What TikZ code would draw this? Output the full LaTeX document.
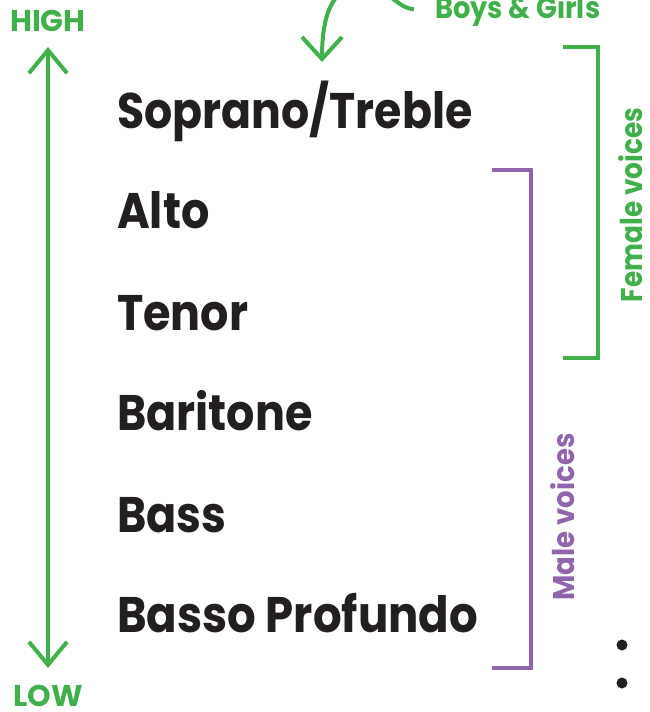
\documentclass[tikz,border=0pt]{standalone}
\usepackage{graphicx}
\usepackage{fontspec}
\setmainfont{Poppins}
\usetikzlibrary{arrows.meta}
\definecolor{voicegreen}{RGB}{64,176,74}
\definecolor{voicepurple}{RGB}{145,101,172}
\definecolor{voiceblack}{RGB}{35,31,32}
\newcommand\narrow[2]{\scalebox{#1}[1]{#2}}
\tikzset{
  voice/.style={anchor=base west,inner sep=0pt,text=voiceblack,font=\fontsize{50}{50}\selectfont\bfseries},
  tag/.style={inner sep=0pt,font=\fontsize{30}{30}\selectfont\bfseries},
  bar/.style={line width=4pt}
}

\begin{document}
\begin{tikzpicture}[x=1pt,y=-1pt]
\useasboundingbox (0,0) rectangle (650,712);

\begin{scope}
    \node[voice] (sop) at (117,128) {\narrow{0.885}{Soprano/Treble}};
    \node[voice] (alt) at (117,228) {\narrow{0.89}{Alto}};
    \node[voice] (ten) at (117,330) {\narrow{0.89}{Tenor}};
    \node[voice] (bar) at (117,430) {\narrow{0.89}{Baritone}};
    \node[voice] (bas) at (117,532) {\narrow{0.89}{Bass}};
    \node[voice] (pro) at (117,632) {\narrow{0.9}{Basso Profundo}};
\end{scope}

\begin{scope}[text=voicegreen]
    \node[tag] (hi) at (48,21) {HIGH};
    \node[tag] (lo) at (48,696) {LOW};
    \node[tag,anchor=base west] (bg) at (435,18) {\narrow{0.91}{Boys \& Girls}};
    \node[tag,rotate=90] (fem) at (631,205) {\narrow{0.88}{Female voices}};
\end{scope}
\node[tag,rotate=90,text=voicepurple] (mal) at (563,517) {\narrow{0.92}{Male voices}};

\coordinate (top) at (48,47);
\coordinate (bot) at (48,668);
\coordinate (tip) at (322,62);
\coordinate (gtop) at (598,47);
\coordinate (gbot) at (598,358);
\coordinate (ptop) at (531,170);
\coordinate (pbot) at (531,668);

\begin{scope}[bar,draw=voicegreen]
    \draw[{Straight Barb[length=23pt,width=38pt]}-{Straight Barb[length=23pt,width=38pt]}] (top) -- (bot);
    \draw ([xshift=-35pt]gtop) -- (gtop) -- (gbot) -- ([xshift=-35pt]gbot);
    \begin{scope}
        \clip (0,0) rectangle (650,712);
        \draw[-{Straight Barb[length=22pt,width=40pt]}] ([xshift=-21pt]bg.west |- 0,9) .. controls (398,9) and (388,-12) .. (365,-14)
            .. controls (335,-16) and (322,10) .. (tip);
    \end{scope}
\end{scope}

\draw[bar,voicepurple] ([xshift=-39pt]ptop) -- (ptop) -- (pbot) -- ([xshift=-39pt]pbot);

\fill[voiceblack] (622,645) circle (5.5) (622,683) circle (5.5);
\end{tikzpicture}
\end{document}
